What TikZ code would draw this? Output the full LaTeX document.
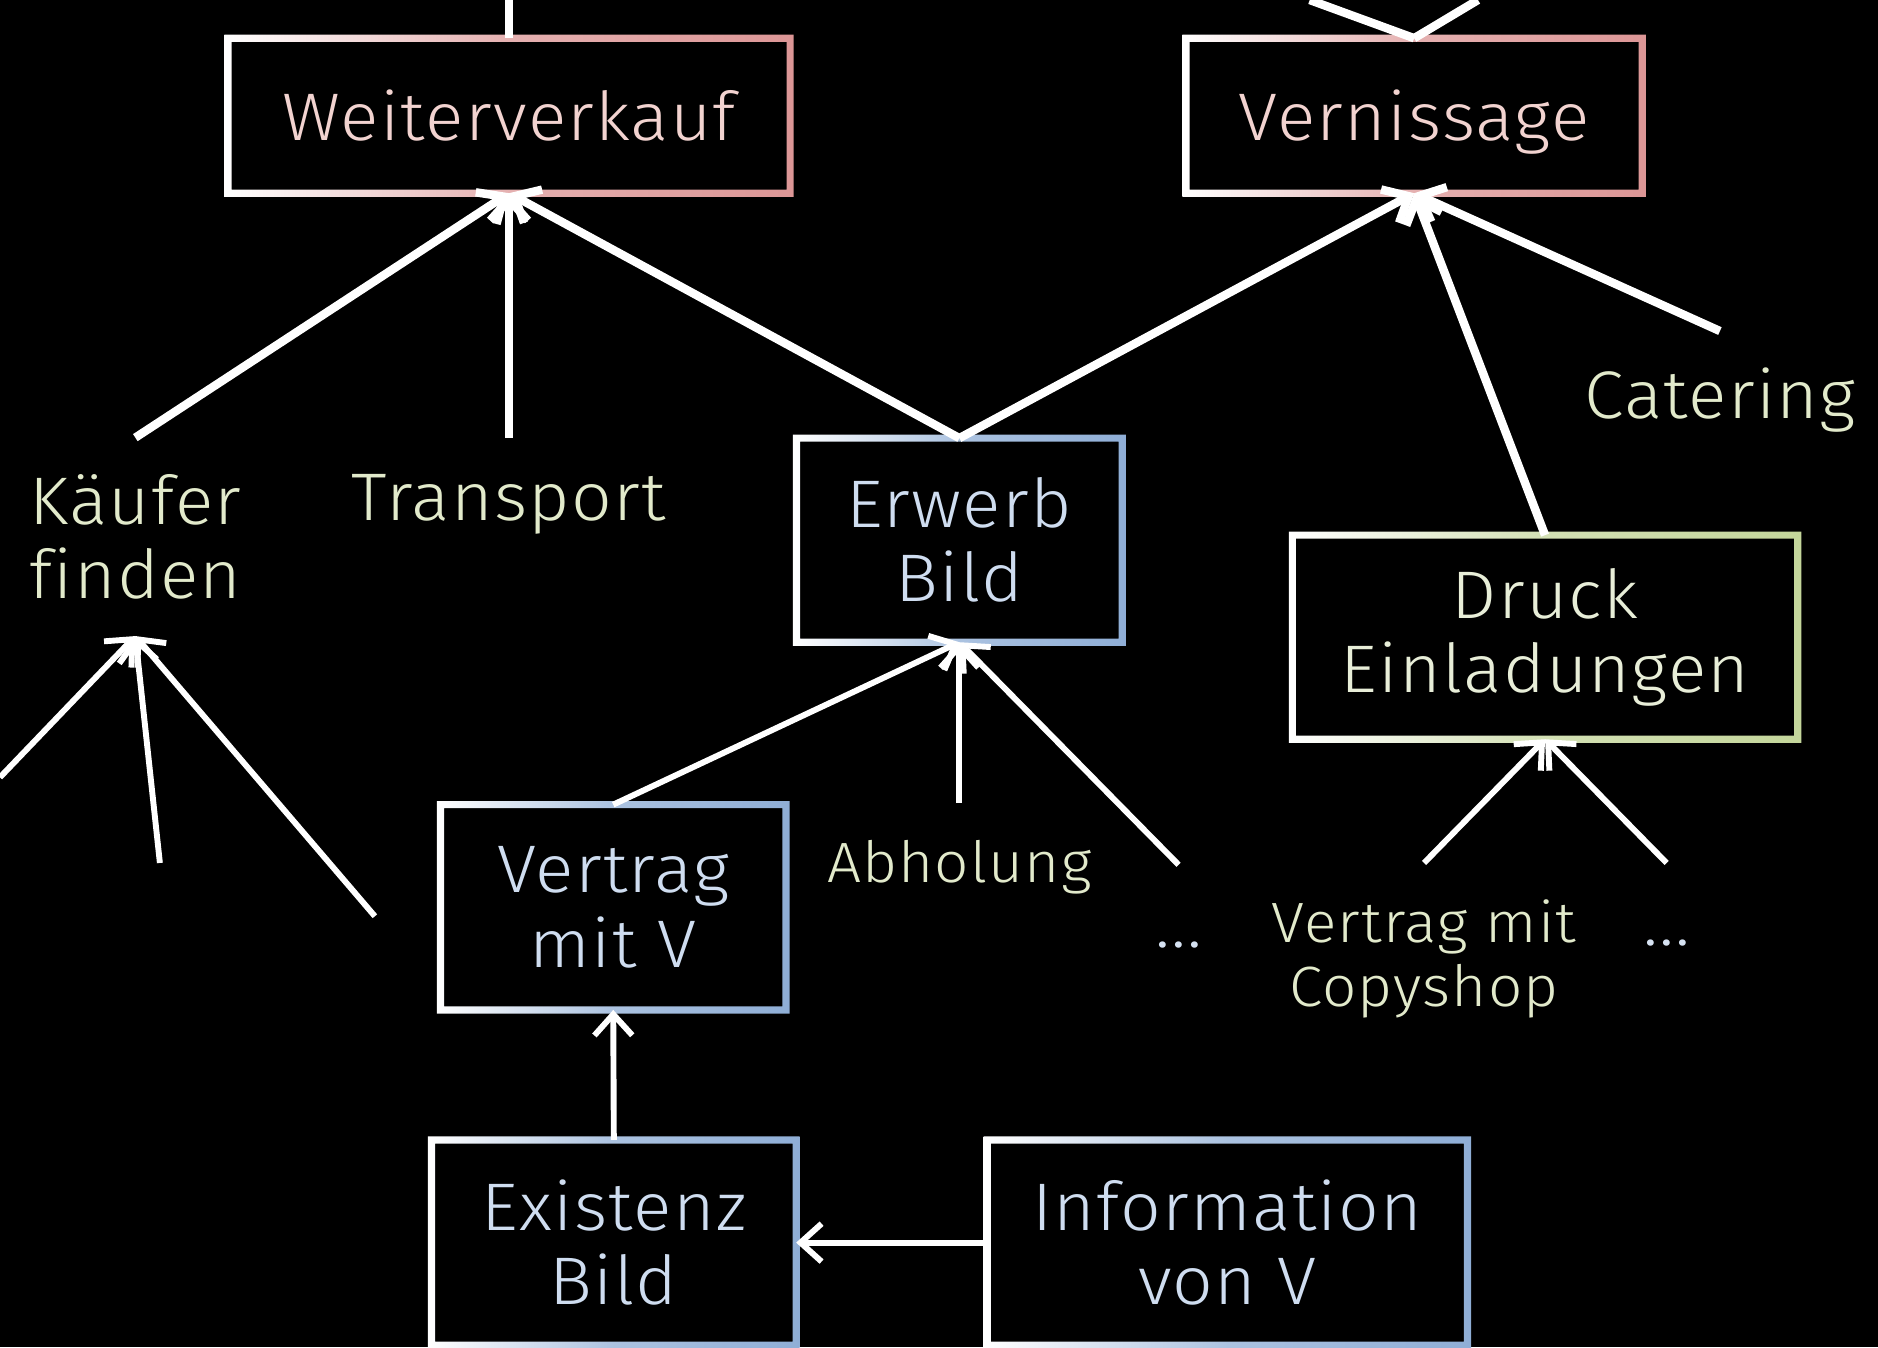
\documentclass[tikz,border=0pt]{standalone}
\usepackage{fontspec}
\setmainfont{Fira Sans Light}[FakeStretch=1.06, LetterSpace=2, Ligatures=NoCommon]
\usetikzlibrary{positioning, arrows.meta}

\definecolor{pinkc}{HTML}{DC9696}
\definecolor{bluec}{HTML}{8FAED6}
\definecolor{greenc}{HTML}{C4D69B}
\definecolor{pinktext}{HTML}{F2D3D0}
\definecolor{bluetext}{HTML}{CFDDF0}
\definecolor{greentext}{HTML}{E2EACB}
\definecolor{drucktext}{HTML}{E8EED8}
\definecolor{dottext}{HTML}{D6E2F2}

\tikzset{
  bigfont/.style={font=\fontsize{16}{17.6}\selectfont},
  smallfont/.style={font=\fontsize{13.5}{15.1}\selectfont},
  box/.style={bigfont, align=center, inner sep=0pt},
  lbl/.style={bigfont, align=center, text=greentext, inner ysep=0.3cm, inner xsep=2pt, anchor=north},
  sublbl/.style={lbl, smallfont},
  dotlbl/.style={lbl, text=dottext, text height=0.38cm},
  main/.style={draw=white, line width=2pt},
  sub/.style={draw=white, line width=1.4pt},
  tip/.style={-{Straight Barb[length=5pt,width=9pt]}}
}

\begin{document}
\begin{tikzpicture}
\fill[black] (0,0) rectangle (15.68,-11.247);
\useasboundingbox (0,0) rectangle (15.68,-11.247);

% boxes
\node[box, text=pinktext, text height=0.42cm, text depth=0cm, minimum width=4.68cm, minimum height=1.28cm] (wv) at (4.25,-0.966) {Weiterverkauf};
\node[box, text=pinktext, text height=0.42cm, text depth=0cm, minimum width=3.795cm, minimum height=1.28cm] (vn) at (11.807,-0.966) {Vernissage};
\node[box, text=bluetext, minimum width=2.705cm, minimum height=1.69cm] (eb) at (8.01,-4.51) {Erwerb\\Bild};
\node[box, text=drucktext, minimum width=4.205cm, minimum height=1.69cm] (de) at (12.9,-5.32) {Druck\\Einladungen};
\node[box, text=bluetext, minimum width=2.87cm, minimum height=1.70cm] (vv) at (5.12,-7.575) {Vertrag\\mit V};
\node[box, text=bluetext, minimum width=3.03cm, minimum height=1.70cm] (ex) at (5.125,-10.375) {Existenz\\Bild};
\node[box, text=bluetext, minimum width=3.995cm, minimum height=1.70cm] (iv) at (10.248,-10.375) {Information\\von V};

% labels
\node[lbl] (kf) at (1.13,-3.654) {Käufer\\finden};
\node[lbl] (tr) at (4.25,-3.654) {Transport};
\node[lbl] (ca) at (14.36,-2.764) {Catering};
\node[sublbl] (ab) at (8.01,-6.705) {Abholung};
\node[dotlbl] (d1) at (9.84,-7.22) {...};
\node[sublbl] (cs) at (11.89,-7.205) {Vertrag mit\\Copyshop};
\node[dotlbl] (d2) at (13.915,-7.205) {...};

% loose ends
\coordinate (top1) at (4.25,0);
\coordinate (top2) at (10.935,0);
\coordinate (top3) at (12.34,0);
\coordinate (kf1) at (0,-6.49);
\coordinate (kf2) at (1.335,-7.205);
\coordinate (kf3) at (3.13,-7.65);

\foreach \n/\c in {wv/pinkc, vn/pinkc, eb/bluec, vv/bluec, ex/bluec, iv/bluec, de/greenc}
\shade[left color=white, right color=\c, middle color=\c!75!white, even odd rule]
  ([shift={(-0.03,-0.03)}]\n.south west) rectangle ([shift={(0.03,0.03)}]\n.north east)
  ([shift={(0.03,0.03)}]\n.south west) rectangle ([shift={(-0.03,-0.03)}]\n.north east);

\draw[main] (wv.north) -- (top1);
\draw[main] (vn.north) -- (top2);
\draw[main] (vn.north) -- (top3);
\foreach \a in {kf, tr, eb} \draw[main, tip] (\a.north) -- (wv.south);
\foreach \a in {eb, ca, de} \draw[main, tip] (\a.north) -- (vn.south);
\foreach \a in {kf1, kf2, kf3} \draw[sub, tip] (\a) -- (kf.south);
\foreach \a in {vv, ab, d1} \draw[sub, tip] (\a.north) -- (eb.south);
\foreach \a in {cs, d2} \draw[sub, tip] (\a.north) -- (de.south);
\draw[sub, tip] (ex.north) -- (vv.south);
\draw[sub, tip] (iv.west) -- (ex.east);

\end{tikzpicture}
\end{document}
